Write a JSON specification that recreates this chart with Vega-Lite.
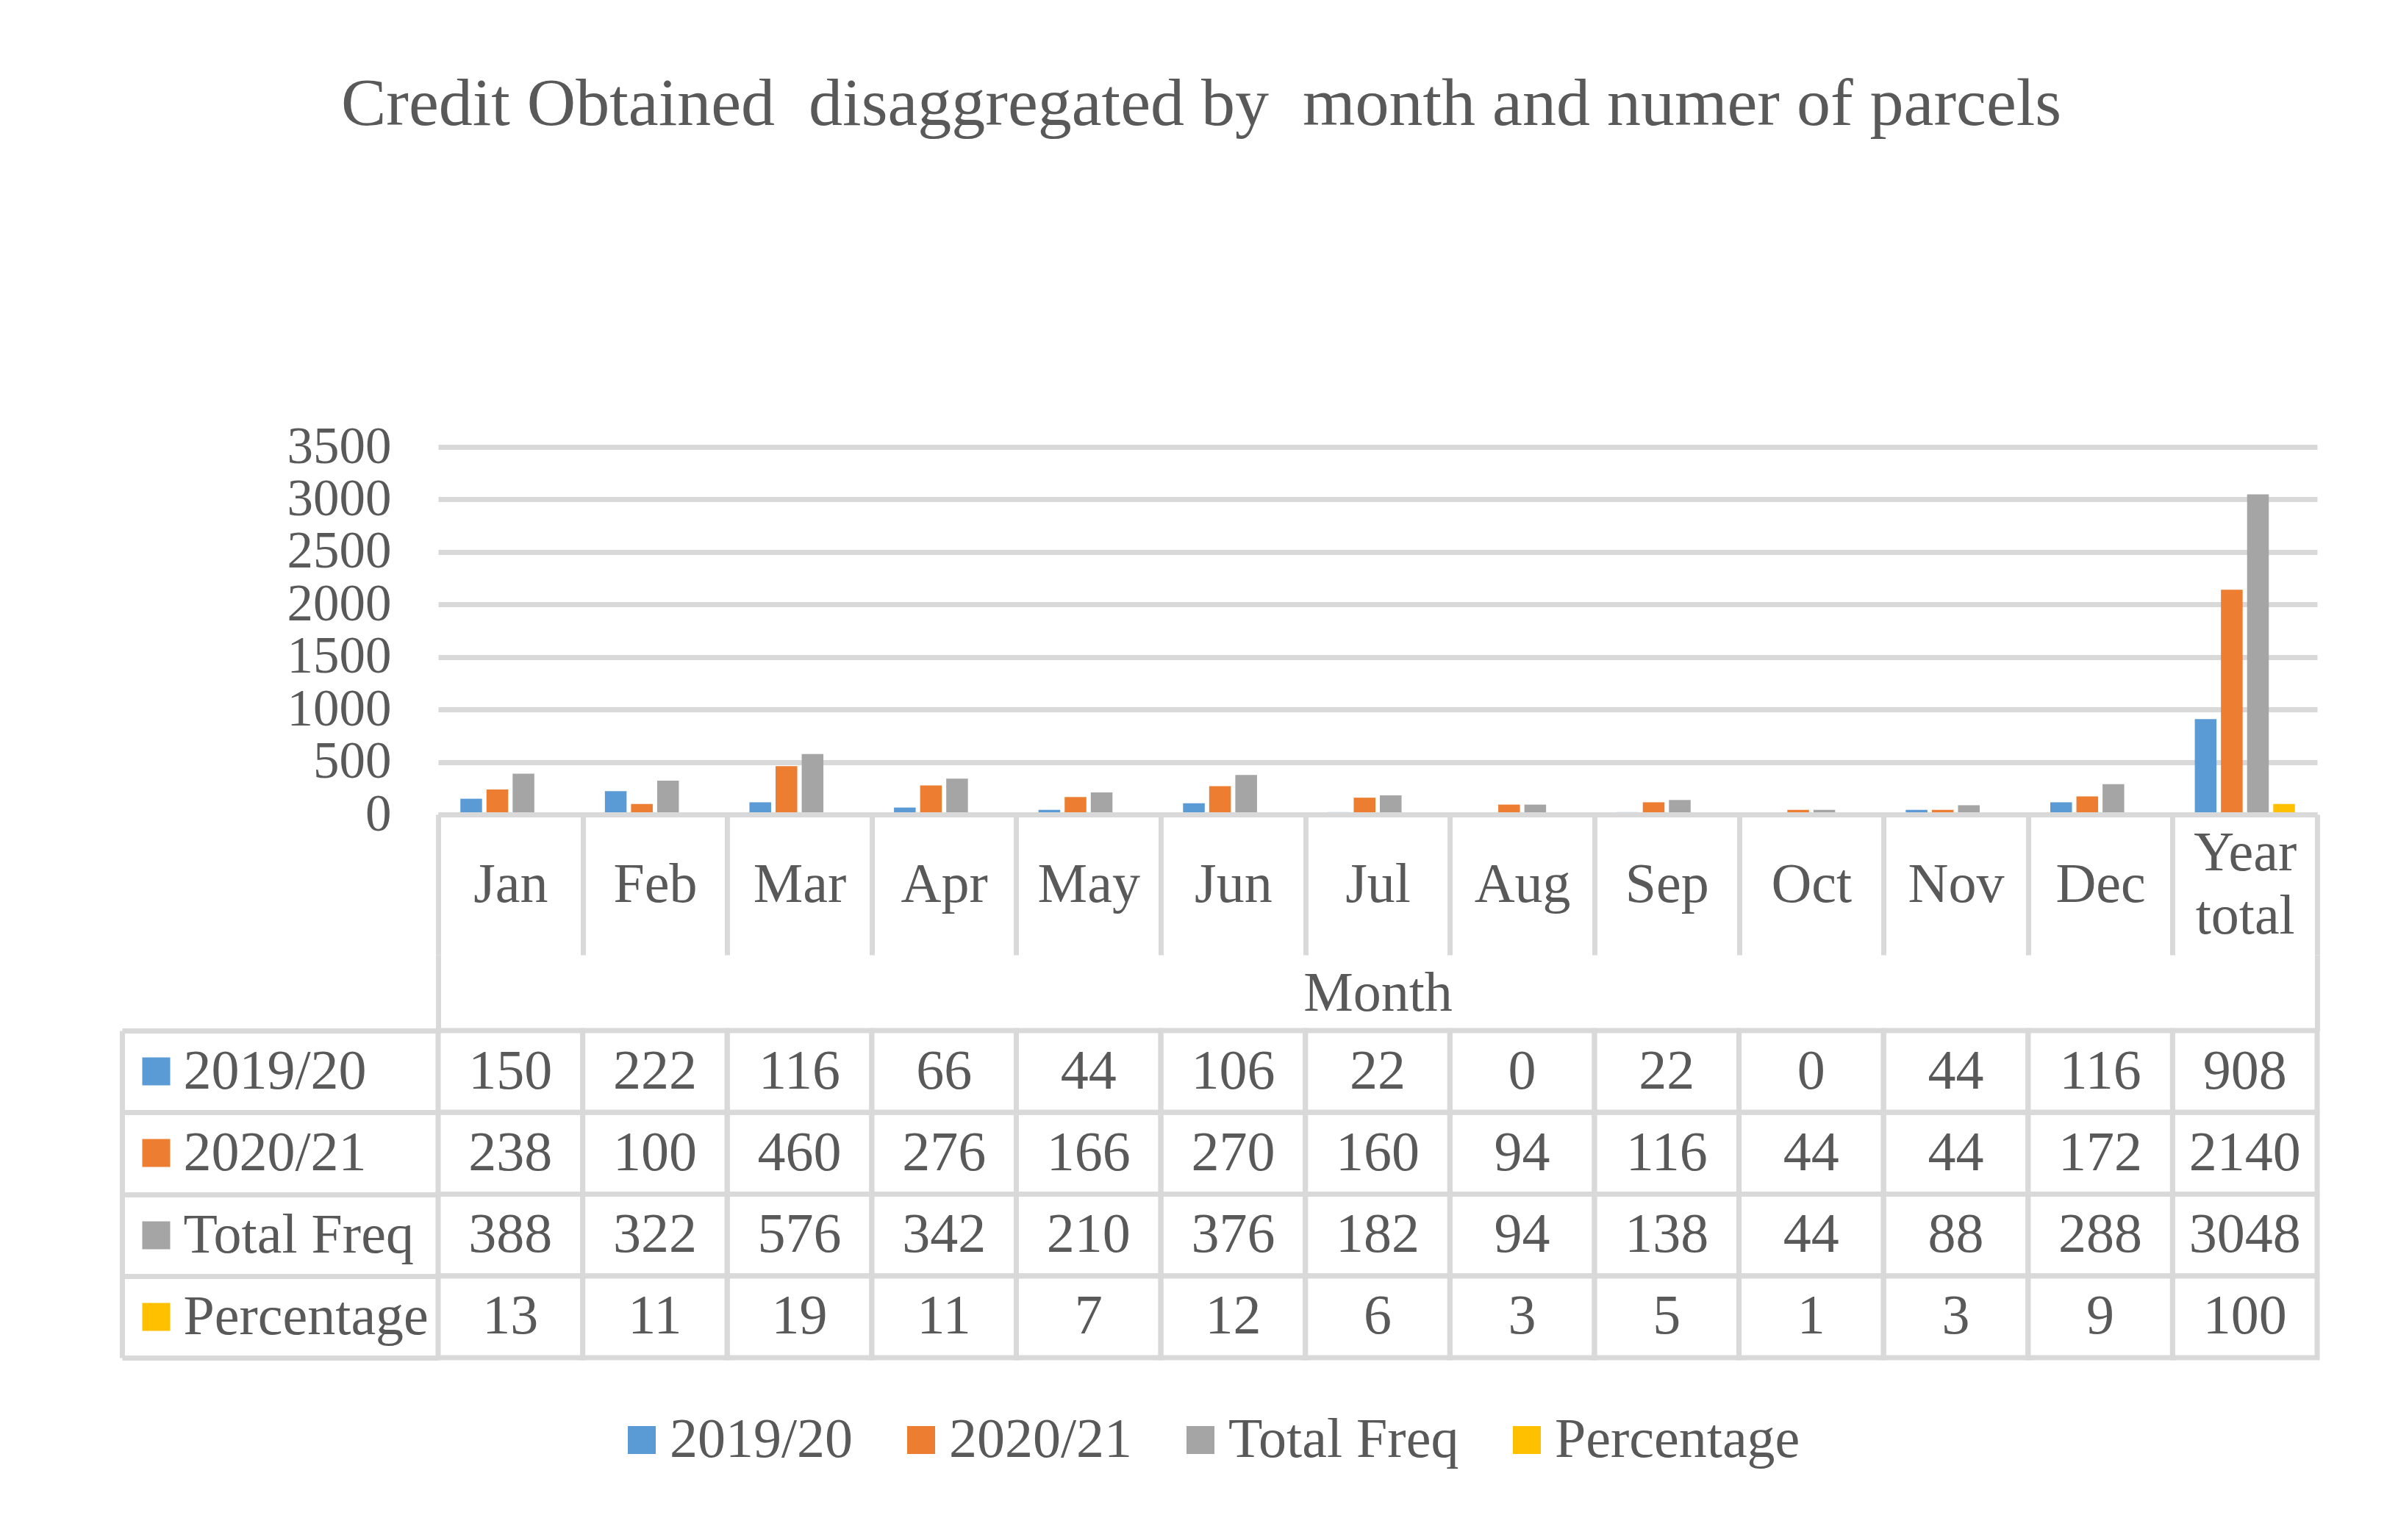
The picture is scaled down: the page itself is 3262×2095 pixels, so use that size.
{
  "$schema": "https://vega.github.io/schema/vega-lite/v6.json",
  "padding": {"left": 162, "top": 96, "right": 5, "bottom": 5},
  "background": "white",
  "title": {
    "text": "Credit Obtained \u00a0disaggregated by \u00a0month and numer of parcels",
    "font": "Liberation Serif", "fontSize": 92, "fontWeight": "normal", "color": "#595959",
    "anchor": "middle", "frame": "bounds", "baseline": "alphabetic", "offset": 310, "dx": -25
  },
  "config": {"view": {"stroke": null}},
  "datasets": {
    "d": [
      {"month": "Jan", "series": "2019/20", "value": 150},
      {"month": "Feb", "series": "2019/20", "value": 222},
      {"month": "Mar", "series": "2019/20", "value": 116},
      {"month": "Apr", "series": "2019/20", "value": 66},
      {"month": "May", "series": "2019/20", "value": 44},
      {"month": "Jun", "series": "2019/20", "value": 106},
      {"month": "Jul", "series": "2019/20", "value": 22},
      {"month": "Aug", "series": "2019/20", "value": 0},
      {"month": "Sep", "series": "2019/20", "value": 22},
      {"month": "Oct", "series": "2019/20", "value": 0},
      {"month": "Nov", "series": "2019/20", "value": 44},
      {"month": "Dec", "series": "2019/20", "value": 116},
      {"month": "Year total", "series": "2019/20", "value": 908},
      {"month": "Jan", "series": "2020/21", "value": 238},
      {"month": "Feb", "series": "2020/21", "value": 100},
      {"month": "Mar", "series": "2020/21", "value": 460},
      {"month": "Apr", "series": "2020/21", "value": 276},
      {"month": "May", "series": "2020/21", "value": 166},
      {"month": "Jun", "series": "2020/21", "value": 270},
      {"month": "Jul", "series": "2020/21", "value": 160},
      {"month": "Aug", "series": "2020/21", "value": 94},
      {"month": "Sep", "series": "2020/21", "value": 116},
      {"month": "Oct", "series": "2020/21", "value": 44},
      {"month": "Nov", "series": "2020/21", "value": 44},
      {"month": "Dec", "series": "2020/21", "value": 172},
      {"month": "Year total", "series": "2020/21", "value": 2140},
      {"month": "Jan", "series": "Total Freq", "value": 388},
      {"month": "Feb", "series": "Total Freq", "value": 322},
      {"month": "Mar", "series": "Total Freq", "value": 576},
      {"month": "Apr", "series": "Total Freq", "value": 342},
      {"month": "May", "series": "Total Freq", "value": 210},
      {"month": "Jun", "series": "Total Freq", "value": 376},
      {"month": "Jul", "series": "Total Freq", "value": 182},
      {"month": "Aug", "series": "Total Freq", "value": 94},
      {"month": "Sep", "series": "Total Freq", "value": 138},
      {"month": "Oct", "series": "Total Freq", "value": 44},
      {"month": "Nov", "series": "Total Freq", "value": 88},
      {"month": "Dec", "series": "Total Freq", "value": 288},
      {"month": "Year total", "series": "Total Freq", "value": 3048},
      {"month": "Jan", "series": "Percentage", "value": 13},
      {"month": "Feb", "series": "Percentage", "value": 11},
      {"month": "Mar", "series": "Percentage", "value": 19},
      {"month": "Apr", "series": "Percentage", "value": 11},
      {"month": "May", "series": "Percentage", "value": 7},
      {"month": "Jun", "series": "Percentage", "value": 12},
      {"month": "Jul", "series": "Percentage", "value": 6},
      {"month": "Aug", "series": "Percentage", "value": 3},
      {"month": "Sep", "series": "Percentage", "value": 5},
      {"month": "Oct", "series": "Percentage", "value": 1},
      {"month": "Nov", "series": "Percentage", "value": 3},
      {"month": "Dec", "series": "Percentage", "value": 9},
      {"month": "Year total", "series": "Percentage", "value": 100}
    ]
  },
  "bounds": "flush",
  "spacing": 294,
  "vconcat": [
    {
      "width": 2556, "height": 500,
      "data": {"name": "d"},
      "mark": {"type": "bar"},
      "encoding": {
        "x": {"field": "month", "type": "nominal",
              "sort": ["Jan","Feb","Mar","Apr","May","Jun","Jul","Aug","Sep","Oct","Nov","Dec","Year total"],
              "scale": {"paddingInner": 0, "paddingOuter": 0},
              "axis": {"orient": "bottom", "labels": false, "ticks": false, "grid": false, "title": null,
                       "domain": true, "domainColor": "#d9d9d9", "domainWidth": 7, "zindex": 1}},
        "xOffset": {"field": "series", "type": "nominal",
                    "sort": ["2019/20","2020/21","Total Freq","Percentage"],
                    "scale": {"paddingInner": 0.17, "paddingOuter": 0.85}},
        "y": {"field": "value", "type": "quantitative",
              "scale": {"domain": [0, 3500], "nice": false},
              "axis": {"values": [0,500,1000,1500,2000,2500,3000,3500], "format": "d", "grid": true,
                       "gridColor": "#d9d9d9", "gridWidth": 7, "domain": false, "ticks": false,
                       "labelFont": "Liberation Serif", "labelFontSize": 71, "labelColor": "#595959",
                       "labelPadding": 64, "labelOverlap": false, "labelLimit": 500, "title": null}},
        "color": {"field": "series", "type": "nominal",
                  "scale": {"domain": ["2019/20","2020/21","Total Freq","Percentage"],
                            "range": ["#5b9bd5","#ed7d31","#a5a5a5","#ffc000"]},
                  "legend": {"orient": "none", "legendX": 239, "legendY": 1313, "direction": "horizontal",
                             "symbolType": "square", "symbolSize": 1444, "symbolStrokeWidth": 0,
                             "labelFont": "Liberation Serif", "labelFontSize": 76, "labelColor": "#595959",
                             "labelLimit": 1000, "labelOffset": 0, "columnPadding": 54, "title": null, "padding": 0}}
      }
    },
    {
      "width": 2556, "height": 445,
      "data": {"name": "d"},
      "layer": [
        {
          "mark": {"type": "rect", "filled": false, "color": "#d9d9d9", "strokeWidth": 7},
          "encoding": {
            "x": {"field": "month", "type": "nominal",
                  "sort": ["Jan","Feb","Mar","Apr","May","Jun","Jul","Aug","Sep","Oct","Nov","Dec","Year total"],
                  "scale": {"paddingInner": 0, "paddingOuter": 0},
                  "axis": {"orient": "top", "offset": 103, "tickBand": "extent", "tickSize": 191,
                           "tickColor": "#d9d9d9", "tickWidth": 7, "domain": false, "grid": false,
                           "labelFont": "Liberation Serif", "labelFontSize": 76, "labelColor": "#595959",
                           "labelPadding": {"condition": {"test": "datum.value === 'Year total'", "value": -52}, "value": -95},
                           "labelBaseline": "middle", "labelAngle": 0,
                           "labelLineHeight": 86, "labelOverlap": false, "labelLimit": 500,
                           "labelExpr": "datum.value == 'Year total' ? ['Year','total'] : datum.value",
                           "title": null}},
            "y": {"field": "series", "type": "nominal",
                  "sort": ["2019/20","2020/21","Total Freq","Percentage"],
                  "scale": {"paddingInner": 0, "paddingOuter": 0},
                  "axis": {"orient": "left", "offset": 430, "tickBand": "extent", "tickSize": -430,
                           "tickColor": "#d9d9d9", "tickWidth": 7, "domain": true,
                           "domainColor": "#d9d9d9", "domainWidth": 7, "grid": false,
                           "labelFont": "Liberation Serif", "labelFontSize": 76, "labelColor": "#595959",
                           "labelAlign": "left", "labelBaseline": "middle", "labelPadding": 347,
                           "labelLimit": 500, "title": null}}
          }
        },
        {
          "mark": {"type": "text", "font": "Liberation Serif", "fontSize": 76, "color": "#595959"},
          "encoding": {
            "x": {"field": "month", "type": "nominal",
                  "sort": ["Jan","Feb","Mar","Apr","May","Jun","Jul","Aug","Sep","Oct","Nov","Dec","Year total"],
                  "scale": {"paddingInner": 0, "paddingOuter": 0},
                  "axis": {"orient": "top", "offset": 0, "tickBand": "extent", "tickSize": 103,
                           "tickColor": "#d9d9d9", "tickWidth": 7, "domain": false, "labels": false,
                           "grid": false,
                           "tickOpacity": {"condition": {"test": "datum.value === 'Year total' || !!datum.extra", "value": 1}, "value": 0},
                           "title": "Month", "titleFont": "Liberation Serif", "titleFontSize": 76,
                           "titleFontWeight": "normal", "titleColor": "#595959",
                           "titleY": -51, "titleBaseline": "middle"}},
            "y": {"field": "series", "type": "nominal",
                  "sort": ["2019/20","2020/21","Total Freq","Percentage"],
                  "scale": {"paddingInner": 0, "paddingOuter": 0},
                  "axis": {"orient": "left", "offset": 365, "tickBand": "center", "tickSize": 38,
                           "tickWidth": 38, "domain": false, "labels": false, "grid": false,
                           "title": null,
                           "tickColor": {"condition": [
                             {"test": "datum.value === '2019/20'", "value": "#5b9bd5"},
                             {"test": "datum.value === '2020/21'", "value": "#ed7d31"},
                             {"test": "datum.value === 'Total Freq'", "value": "#a5a5a5"}
                           ], "value": "#ffc000"}}},
            "text": {"field": "value", "type": "quantitative", "format": "d"}
          }
        }
      ],
      "resolve": {"axis": {"x": "independent", "y": "independent"}}
    }
  ]
}
